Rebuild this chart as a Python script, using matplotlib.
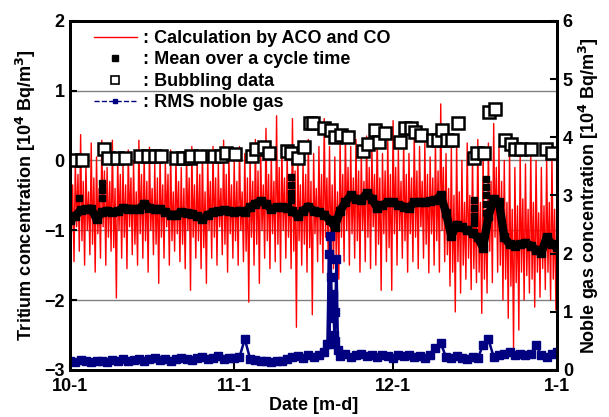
import matplotlib
matplotlib.use("Agg")
import matplotlib.pyplot as plt
import numpy as np
from matplotlib.lines import Line2D

plt.rcParams["font.family"] = ["Liberation Sans", "DejaVu Sans"]
plt.rcParams["font.weight"] = "bold"

# days since 10-1, one entry per day (0..92)
red_hi = [0.1, 0.0, 0.37, -0.05, 0.25, 0.05, 0.29, -0.1, 0.29, 0.05,
          -0.05, 0.15, 0.0, 0.29, 0.1, 0.19, -0.05, 0.1, 0.0, 0.15,
          0.05, -0.1, 0.1, 0.2, 0.0, 0.15, 0.05, 0.2, -0.05, 0.29,
          0.1, 0.0, 0.2, 0.1, 0.05, 0.3, 0.15, 0.46, 0.1, 0.64,
          0.2, 0.1, 0.6, 0.2, 0.0, 0.3, 0.1, 0.2, 0.6, 0.2,
          0.05, 0.3, 0.42, 0.2, 0.3, 0.1, 0.35, 0.2, 0.47, 0.1,
          0.3, 0.57, 0.15, 0.3, 0.1, 0.4, 0.2, 0.25, 0.05, 0.3,
          0.81, 0.1, 0.2, 0.3, 0.0, 0.25, 0.1, 0.3, 0.15, 0.25,
          0.53, 0.2, 0.0, 0.15, -0.1, 0.1, -0.05, 0.15, 0.0, -0.1,
          0.05, 0.1, -0.3]
red_lo2 = [-1.05, -0.95, -1.15, -1.0, -1.2, -1.05, -0.95, -1.1, -1.25, -1.0,
           -1.1, -0.95, -1.2, -1.05, -1.15, -1.0, -1.2, -1.1, -0.95, -1.15,
           -1.05, -1.2, -1.0, -1.1, -1.15, -1.25, -1.0, -1.1, -0.95, -1.2,
           -1.05, -1.15, -1.0, -1.3, -1.1, -1.2, -1.0, -1.15, -1.05, -1.2,
           -1.0, -1.1, -1.3, -1.15, -1.2, -1.25, -1.05, -1.2, -1.1, -1.3,
           -1.35, -1.1, -1.0, -1.05, -1.15, -1.0, -1.1, -0.95, -1.2, -1.05,
           -1.25, -1.05, -1.0, -1.15, -1.05, -1.1, -0.95, -1.2, -1.05, -1.15,
           -1.0, -1.35, -1.6, -1.45, -1.5, -1.4, -1.55, -1.6, -1.7, -1.3,
           -1.1, -1.5, -1.7, -1.8, -1.75, -1.6, -1.65, -1.7, -1.6, -1.55,
           -1.6, -1.7, -1.65]
red_hi2 = [-0.35, -0.2, -0.3, -0.45, -0.25, -0.4, -0.15, -0.3, -0.4, -0.2,
           -0.35, -0.25, -0.45, -0.2, -0.3, -0.4, -0.25, -0.35, -0.2, -0.45,
           -0.3, -0.4, -0.25, -0.35, -0.2, -0.45, -0.3, -0.25, -0.4, -0.2,
           -0.35, -0.3, -0.45, -0.25, -0.3, -0.15, -0.35, -0.2, -0.3, -0.1,
           -0.25, -0.3, -0.15, -0.35, -0.2, -0.3, -0.4, -0.2, -0.25, -0.35,
           -0.45, -0.2, -0.1, -0.25, -0.15, -0.3, -0.1, -0.2, -0.25, -0.15,
           -0.2, -0.1, -0.3, -0.2, -0.25, -0.15, -0.3, -0.2, -0.25, -0.15,
           -0.1, -0.4, -0.5, -0.45, -0.6, -0.5, -0.55, -0.6, -0.7, -0.3,
           -0.1, -0.3, -0.6, -0.7, -0.65, -0.55, -0.7, -0.6, -0.75, -0.65,
           -0.6, -0.7, -0.75]
red_lo = [-1.45, -1.3, -1.5, -1.35, -1.6, -1.4, -1.5, -1.3, -1.97, -1.4,
          -1.55, -1.35, -1.5, -1.4, -1.6, -1.35, -1.76, -1.4, -1.5, -1.3,
          -1.45, -1.55, -1.86, -1.4, -1.55, -1.76, -1.4, -1.5, -1.35, -1.6,
          -1.4, -1.5, -1.45, -2.03, -1.5, -1.76, -1.4, -1.55, -1.45, -1.6,
          -1.4, -1.55, -2.39, -1.5, -1.6, -2.21, -1.45, -1.61, -1.4, -1.55,
          -1.7, -1.45, -1.5, -1.4, -1.6, -1.45, -1.55, -1.5, -1.86, -1.45,
          -1.86, -1.5, -1.4, -1.6, -1.45, -1.55, -1.4, -1.61, -1.5, -1.6,
          -1.45, -1.8, -2.17, -1.9, -1.7, -1.85, -1.75, -2.19, -1.9, -1.75,
          -1.6, -2.0, -2.26, -2.69, -2.43, -2.0, -1.9, -2.1, -1.96, -1.85,
          -2.0, -2.14, -1.9]

mean_val = [-0.86, -0.8, -0.71, -0.7, -0.69, -0.84, -0.74, -0.72, -0.74, -0.73,
            -0.68, -0.69, -0.7, -0.7, -0.62, -0.68, -0.7, -0.7, -0.74, -0.78,
            -0.78, -0.74, -0.75, -0.76, -0.8, -0.84, -0.78, -0.74, -0.73, -0.71,
            -0.72, -0.74, -0.72, -0.74, -0.67, -0.62, -0.58, -0.62, -0.7, -0.67,
            -0.67, -0.68, -0.72, -0.8, -0.72, -0.66, -0.72, -0.74, -0.78, -0.85,
            -0.95, -0.72, -0.6, -0.5, -0.55, -0.57, -0.47, -0.55, -0.68, -0.64,
            -0.6, -0.6, -0.64, -0.66, -0.68, -0.6, -0.6, -0.6, -0.58, -0.57,
            -0.5, -0.75, -1.08, -0.92, -0.96, -1.0, -1.04, -1.1, -1.25, -0.8,
            -0.55, -0.6, -1.1, -1.2, -1.22, -1.2, -1.18, -1.22, -1.28, -1.33,
            -1.1, -1.2, -1.24]
mean_extra_day = [1.7, 6.0, 6.0, 6.0, 41.8, 41.8, 41.8, 41.8,
                  76.3, 76.3, 76.3, 76.3, 78.6, 78.6, 78.6, 78.6, 78.6]
mean_extra_val = [-0.54, -0.33, -0.43, -0.54, -0.24, -0.35, -0.46, -0.57,
                  -0.57, -0.68, -0.8, -0.9, -0.26, -0.38, -0.5, -0.62, -0.75]

bubble_day = [0.8, 2.3, 6.4, 7.2, 8.9, 10.4, 13.2, 14.7, 16.1, 17.2,
              20.0, 21.4, 22.7, 22.9, 24.5, 27.2, 28.5, 29.5, 31.2, 34.4,
              35.2, 36.7, 37.5, 41.0, 41.8, 43.1, 44.2, 45.4, 45.9, 48.0,
              49.3, 50.1, 51.2, 52.4, 55.4, 56.3, 57.5, 58.4, 59.4, 62.4,
              63.3, 64.3, 65.2, 66.3, 68.6, 69.4, 70.3, 71.1, 72.2, 73.2,
              76.2, 76.9, 78.2, 79.2, 80.3, 82.2, 83.3, 84.1, 85.2, 87.1,
              89.9, 91.1]
bubble_val = [0.01, 0.01, 0.17, 0.03, 0.03, 0.03, 0.07, 0.07, 0.07, 0.07,
              0.03, 0.03, 0.03, 0.07, 0.06, 0.07, 0.06, 0.1, 0.09, 0.07,
              0.16, 0.2, 0.1, 0.14, 0.11, 0.04, 0.2, 0.53, 0.53, 0.46,
              0.44, 0.34, 0.37, 0.33, 0.14, 0.24, 0.44, 0.26, 0.39, 0.26,
              0.46, 0.46, 0.41, 0.37, 0.29, 0.29, 0.44, 0.29, 0.29, 0.54,
              0.04, 0.1, 0.11, 0.69, 0.74, 0.29, 0.24, 0.17, 0.17, 0.17,
              0.17, 0.11]

noble_val = [0.16, 0.14, 0.17, 0.15, 0.13, 0.16, 0.15, 0.14, 0.17, 0.16,
             0.18, 0.15, 0.17, 0.19, 0.16, 0.18, 0.2, 0.17, 0.19, 0.16,
             0.18, 0.21, 0.19, 0.17, 0.2, 0.22, 0.18, 0.2, 0.23, 0.19,
             0.21, 0.2, 0.22, 0.53, 0.19, 0.17, 0.15, 0.16, 0.14, 0.16,
             0.15, 0.18, 0.22, 0.24, 0.21, 0.26, 0.22, 0.25, 0.3, 0.45,
             0.5, 0.24, 0.28, 0.22, 0.25, 0.27, 0.23, 0.26, 0.22, 0.25,
             0.24, 0.21, 0.25, 0.23, 0.26, 0.22, 0.24, 0.2, 0.25, 0.38,
             0.46, 0.22, 0.2, 0.23, 0.21, 0.19, 0.22, 0.2, 0.43, 0.53,
             0.22, 0.25, 0.27, 0.3, 0.26, 0.28, 0.25, 0.27, 0.43, 0.25,
             0.22, 0.27, 0.3]
spike_day = [48.6, 48.9, 49.1, 49.3, 49.5, 49.7, 49.9, 50.1, 50.3, 50.6]
spike_val = [0.45, 2.0, 2.3, 1.6, 0.9, 1.3, 0.6, 1.0, 1.9, 0.35]

date_ticks = [0, 31, 61, 92]
date_labels = ["10-1", "11-1", "12-1", "1-1"]

days = np.arange(len(mean_val))
n = min(len(red_hi), len(red_lo2), len(red_hi2), len(red_lo))
red_t = np.column_stack([days[:n], days[:n] + 0.25, days[:n] + 0.5, days[:n] + 0.75]).ravel()
red_y = np.column_stack([red_hi[:n], red_lo2[:n], red_hi2[:n], red_lo[:n]]).ravel()

noble_t = np.concatenate([np.arange(len(noble_val)), spike_day])
noble_y = np.concatenate([noble_val, spike_val])
order = np.argsort(noble_t)
noble_t, noble_y = noble_t[order], noble_y[order]

fig = plt.figure(figsize=(6.09, 4.17), dpi=100)
ax = fig.add_axes([0.115, 0.113, 0.8, 0.837])
ax2 = ax.twinx()

for y in [1, 0, -1, -2]:
    ax.axhline(y, color="#808080", lw=1.0, zorder=0)

ax.plot(red_t, red_y, color="red", lw=1.0, zorder=1)
ax.plot(days, mean_val, color="black", lw=6, marker="s", ms=5.5, zorder=2)
ax.plot(mean_extra_day, mean_extra_val, ls="none", color="black", marker="s", ms=4.5, zorder=2)
ax.plot(bubble_day, bubble_val, ls="none", marker="s", ms=8.5, mfc="white",
        mec="black", mew=1.8, zorder=3)

ax2.plot(noble_t, noble_y, color="#000080", lw=1.8, ls="-", marker="s",
         ms=5.5, mec="#000080", mfc="#000080")

ax.set_xlim(0, 92)
ax.set_ylim(-3, 2)
ax2.set_ylim(0, 6)
ax.set_xticks(date_ticks)
ax.set_xticklabels(date_labels)
ax.set_yticks([-3, -2, -1, 0, 1, 2])
ax2.set_yticks(range(7))

for a in (ax, ax2):
    a.tick_params(direction="in", length=5, width=1.5, labelsize=13, pad=4)
    for s in a.spines.values():
        s.set_linewidth(2)
ax.tick_params(axis="x", pad=6)

ax.set_xlabel("Date [m-d]", fontsize=13, fontweight="bold", labelpad=1)
ax.set_ylabel("Tritium concentration [10$^4$ Bq/m$^3$]", fontsize=13,
              fontweight="bold", labelpad=4)
ax2.set_ylabel("Noble gas concentration [10$^4$ Bq/m$^3$]", fontsize=13,
               fontweight="bold", labelpad=3)

handles = [
    Line2D([], [], color="red", lw=1),
    Line2D([], [], ls="none", color="black", marker="s", ms=4),
    Line2D([], [], ls="none", marker="s", ms=6, mfc="white", mec="black", mew=1.2),
    Line2D([], [], color="#000080", lw=1, ls="--", marker="s", ms=3),
]
labels = [": Calculation by ACO and CO", ": Mean over a cycle time",
          ": Bubbling data", ": RMS noble gas"]
ax2.legend(handles, labels, loc="upper left", bbox_to_anchor=(0.03, 1.0),
           frameon=False, handlelength=2.4, handletextpad=0.35,
           labelspacing=0.25, borderaxespad=0.1,
           prop={"weight": "bold", "size": 13})

fig.savefig("out.png", dpi=100)
